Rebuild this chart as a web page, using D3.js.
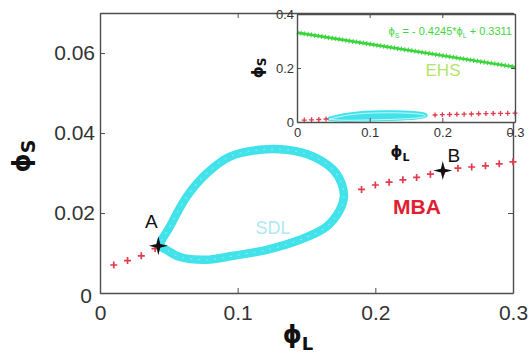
<!DOCTYPE html>
<html>
<head>
<meta charset="utf-8">
<script src="https://cdn.jsdelivr.net/npm/d3@7/dist/d3.min.js"></script>
<style>
  html, body { margin: 0; padding: 0; background: #fff; }
  svg { display: block; font-family: "Liberation Sans", Arial, "DejaVu Sans", sans-serif; }
</style>
</head>
<body>
<svg id="chart" width="529" height="356"></svg>
<script>
// MBA branch (red plus markers)
const mbaPhiL = [0.01, 0.02, 0.03, 0.04, 0.19, 0.20, 0.21, 0.22, 0.23, 0.24, 0.25, 0.26, 0.27, 0.28, 0.29, 0.30];
const mbaPhiS = [0.0070, 0.0081, 0.0093, 0.0111, 0.0259, 0.0270, 0.0277, 0.0283, 0.0289, 0.0297, 0.0305, 0.0312, 0.0315, 0.0318, 0.0323, 0.0328];

// SDL closed loop (upper branch left to right, then lower branch right to left)
const sdlPhiL = [0.0440, 0.0508, 0.0630, 0.0775, 0.0944, 0.1162, 0.1356, 0.1549, 0.1694, 0.1755, 0.1772,
                 0.1743, 0.1646, 0.1452, 0.1211, 0.0968, 0.0775, 0.0581, 0.0496];
const sdlPhiS = [0.0120, 0.0166, 0.0241, 0.0299, 0.0341, 0.0358, 0.0358, 0.0341, 0.0308, 0.0274, 0.0241,
                 0.0208, 0.0166, 0.0133, 0.0108, 0.0093, 0.0083, 0.0090, 0.0105];

// EHS line, from its fitted equation
const ehsSlope = -0.4245;
const ehsIntercept = 0.3311;
const ehsPhiLRange = [0, 0.3];

// Marked points
const pointLabels = ["A", "B"];
const pointPhiL = [0.0424, 0.249];
const pointPhiS = [0.0118, 0.0306];

// Ticks
const xTicks = [0, 0.1, 0.2, 0.3];
const xTickLabels = ["0", "0.1", "0.2", "0.3"];
const yTicks = [0, 0.02, 0.04, 0.06];
const yTickLabels = ["0", "0.02", "0.04", "0.06"];
const insetYTicks = [0, 0.2, 0.4];
const insetYTickLabels = ["0", "0.2", "0.4"];

const svg = d3.select("#chart");
const axisColor = "#4d4d4d";
const labelColor = "#333";
const redColor = "#e23b4c";
const cyanColor = "#42e2ea";

// ---------- main axes ----------
const x = d3.scaleLinear().domain([0, 0.3]).range([100, 513]);
const y = d3.scaleLinear().domain([0, 0.07]).range([293, 13]);

function styleAxis(g, fontSize) {
  g.select(".domain").attr("stroke", axisColor).attr("stroke-width", 1.4);
  g.selectAll(".tick line").attr("stroke", axisColor).attr("stroke-width", 1);
  g.selectAll(".tick text").attr("fill", labelColor).attr("font-size", fontSize)
    .attr("font-family", "\"Liberation Sans\", Arial, sans-serif");
}

const main = svg.append("g");

main.append("g").attr("transform", "translate(0,293)")
  .call(d3.axisBottom(x).tickValues(xTicks).tickFormat((d, i) => xTickLabels[i]).tickSize(-5).tickPadding(12).tickSizeOuter(0))
  .call(g => styleAxis(g, 21));
main.append("g").attr("transform", "translate(100,0)")
  .call(d3.axisLeft(y).tickValues(yTicks).tickFormat((d, i) => yTickLabels[i]).tickSize(-5).tickPadding(5).tickSizeOuter(0))
  .call(g => styleAxis(g, 21));
main.append("g").attr("transform", "translate(0,13)")
  .call(d3.axisTop(x).tickValues(xTicks).tickFormat("").tickSize(-5).tickSizeOuter(0))
  .call(g => styleAxis(g, 0));
main.append("g").attr("transform", "translate(513,0)")
  .call(d3.axisRight(y).tickValues(yTicks).tickFormat("").tickSize(-5).tickSizeOuter(0))
  .call(g => styleAxis(g, 0));

// push the y-axis "0" slightly down and left of the corner
main.selectAll("g .tick text").filter(function () { return this.textContent === "0"; })
  .each(function () {
    const t = d3.select(this);
    if (t.attr("x") !== null && +t.attr("x") < 0) t.attr("dy", "0.45em").attr("x", -8);
  });

// SDL loop
const sdlPts = sdlPhiL.map((v, i) => [v, sdlPhiS[i]]);
const loopLine = d3.line().x(d => x(d[0])).y(d => y(d[1])).curve(d3.curveCatmullRomClosed.alpha(0.5));
main.append("path").attr("d", loopLine(sdlPts))
  .attr("fill", "none").attr("stroke", cyanColor).attr("stroke-width", 8.5);
main.append("path").attr("d", loopLine(sdlPts))
  .attr("fill", "none").attr("stroke", "#9af1f4").attr("stroke-width", 1.2)
  .attr("stroke-dasharray", "2 6").attr("opacity", 0.7);

// MBA plus markers
main.append("g").selectAll("path").data(mbaPhiL).join("path")
  .attr("transform", (d, i) => `translate(${x(d)},${y(mbaPhiS[i])})`)
  .attr("d", "M-3.5,0H3.5M0,-3.5V3.5")
  .attr("stroke", redColor).attr("stroke-width", 1.7).attr("fill", "none");

// star markers for A and B
const star4 = {
  draw(ctx, size) {
    const r = Math.sqrt(size), w = r * 0.2;
    ctx.moveTo(0, -r); ctx.lineTo(w, -w); ctx.lineTo(r, 0); ctx.lineTo(w, w);
    ctx.lineTo(0, r); ctx.lineTo(-w, w); ctx.lineTo(-r, 0); ctx.lineTo(-w, -w); ctx.closePath();
  }
};
main.append("g").selectAll("path").data(pointPhiL).join("path")
  .attr("transform", (d, i) => `translate(${x(d)},${y(pointPhiS[i])})`)
  .attr("d", d3.symbol().type(star4).size(90)())
  .attr("fill", "#111");

main.append("text").attr("x", x(pointPhiL[0]) - 7).attr("y", y(pointPhiS[0]) - 18)
  .attr("text-anchor", "middle").attr("font-size", 19).attr("fill", "#111").text(pointLabels[0]);
main.append("text").attr("x", x(pointPhiL[1]) + 11).attr("y", y(pointPhiS[1]) - 9)
  .attr("text-anchor", "middle").attr("font-size", 19).attr("fill", "#111").text(pointLabels[1]);

main.append("text").attr("x", 417).attr("y", 214).attr("text-anchor", "middle")
  .attr("font-size", 21).attr("font-weight", "bold").attr("fill", "#e02030").text("MBA");
main.append("text").attr("x", 273).attr("y", 234).attr("text-anchor", "middle")
  .attr("font-size", 18).attr("fill", "#aee9f1").text("SDL");

// axis titles
const xTitle = main.append("text").attr("x", 298).attr("y", 343).attr("text-anchor", "middle")
  .attr("font-weight", "bold").attr("fill", "#111").attr("font-family", "\"DejaVu Sans\", sans-serif");
xTitle.append("tspan").attr("font-size", 24).text("ϕ");
xTitle.append("tspan").attr("font-size", 18).attr("dy", 7).text("L");

const yTitle = main.append("text").attr("transform", "translate(30,156) rotate(-90)").attr("text-anchor", "middle")
  .attr("font-weight", "bold").attr("fill", "#111").attr("font-family", "\"DejaVu Sans\", sans-serif");
yTitle.append("tspan").attr("font-size", 24).text("ϕ");
yTitle.append("tspan").attr("font-size", 19).attr("dy", 5).text("S");

// ---------- inset ----------
const ix = d3.scaleLinear().domain([0, 0.3]).range([297, 515]);
const iy = d3.scaleLinear().domain([0, 0.4]).range([122, 14]);
const inset = svg.append("g");

inset.append("rect").attr("x", 297).attr("y", 14).attr("width", 218).attr("height", 108).attr("fill", "#fff");

// EHS line with dense marker texture
const ehsPts = ehsPhiLRange.map(v => [v, ehsSlope * v + ehsIntercept]);
const insetLine = d3.line().x(d => ix(d[0])).y(d => iy(d[1]));
inset.append("path").attr("d", insetLine(ehsPts))
  .attr("stroke", "#3cd43c").attr("stroke-width", 2.6).attr("fill", "none");
inset.append("path").attr("d", insetLine(ehsPts))
  .attr("stroke", "#3cd43c").attr("stroke-width", 5).attr("stroke-dasharray", "1 2.5").attr("fill", "none");

// SDL loop in inset: a thick band with a pale core
const insetLoop = d3.line().x(d => ix(d[0])).y(d => iy(d[1])).curve(d3.curveCatmullRomClosed.alpha(0.5));
inset.append("path").attr("d", insetLoop(sdlPts))
  .attr("fill", cyanColor).attr("stroke", cyanColor).attr("stroke-width", 4);
inset.append("path").attr("d", insetLoop(sdlPts))
  .attr("fill", "none").attr("stroke", "#d2f9fa").attr("stroke-width", 0.9).attr("transform", "translate(0,0.5)");

// MBA in inset
inset.append("g").selectAll("path").data(mbaPhiL).join("path")
  .attr("transform", (d, i) => `translate(${ix(d)},${iy(mbaPhiS[i])})`)
  .attr("d", "M-2.5,0H2.5M0,-2.5V2.5")
  .attr("stroke", redColor).attr("stroke-width", 1.3).attr("fill", "none");

inset.append("g").attr("transform", "translate(0,122)")
  .call(d3.axisBottom(ix).tickValues(xTicks).tickFormat((d, i) => xTickLabels[i]).tickSize(-4).tickPadding(6).tickSizeOuter(0))
  .call(g => styleAxis(g, 13));
inset.append("g").attr("transform", "translate(297,0)")
  .call(d3.axisLeft(iy).tickValues(insetYTicks).tickFormat((d, i) => insetYTickLabels[i]).tickSize(-4).tickPadding(3).tickSizeOuter(0))
  .call(g => styleAxis(g, 13));
inset.append("g").attr("transform", "translate(0,14)")
  .call(d3.axisTop(ix).tickValues(xTicks).tickFormat("").tickSize(-4).tickSizeOuter(0))
  .call(g => styleAxis(g, 0));
inset.append("g").attr("transform", "translate(515,0)")
  .call(d3.axisRight(iy).tickValues(insetYTicks).tickFormat("").tickSize(-4).tickSizeOuter(0))
  .call(g => styleAxis(g, 0));

// equation and label
const eq = inset.append("text").attr("x", 512).attr("y", 35).attr("text-anchor", "end")
  .attr("font-size", 11).attr("fill", "#3fd43f");
eq.append("tspan").text("ϕ");
eq.append("tspan").attr("font-size", 7).attr("dy", 3).text("S");
eq.append("tspan").attr("dy", -3).text(" = - 0.4245*ϕ");
eq.append("tspan").attr("font-size", 7).attr("dy", 3).text("L");
eq.append("tspan").attr("dy", -3).text(" + 0.3311");

inset.append("text").attr("x", 443).attr("y", 76).attr("text-anchor", "middle")
  .attr("font-size", 17).attr("fill", "#b4e46a").text("EHS");

// inset axis titles
const ixTitle = inset.append("text").attr("x", 400).attr("y", 157).attr("text-anchor", "middle")
  .attr("font-weight", "bold").attr("fill", "#111").attr("font-family", "\"DejaVu Sans\", sans-serif");
ixTitle.append("tspan").attr("font-size", 15).text("ϕ");
ixTitle.append("tspan").attr("font-size", 11).attr("dy", 4).text("L");

const iyTitle = inset.append("text").attr("transform", "translate(263,68) rotate(-90)").attr("text-anchor", "middle")
  .attr("font-weight", "bold").attr("fill", "#111").attr("font-family", "\"DejaVu Sans\", sans-serif");
iyTitle.append("tspan").attr("font-size", 15).text("ϕ");
iyTitle.append("tspan").attr("font-size", 12).attr("dy", 3).text("S");
</script>
</body>
</html>
